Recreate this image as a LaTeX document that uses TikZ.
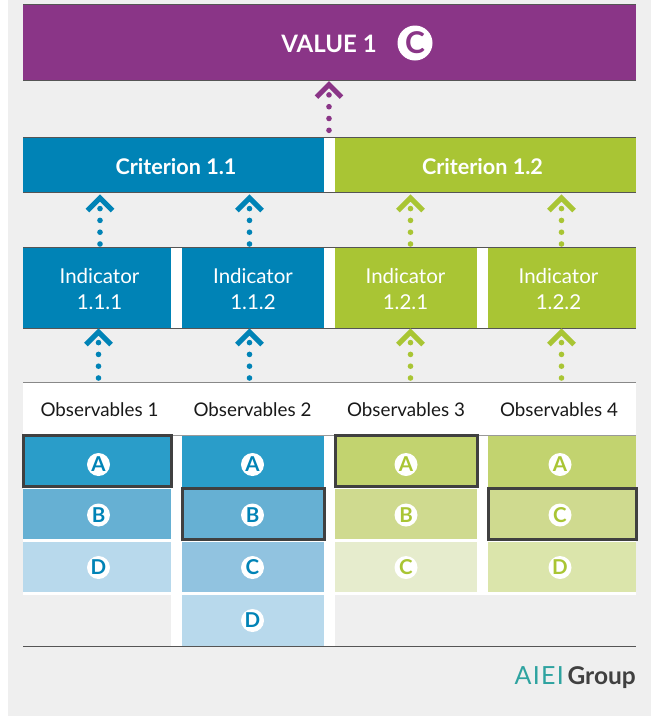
\documentclass[tikz,border=0pt]{standalone}
\usepackage{fontspec}
\setmainfont{Lato}
\usetikzlibrary{calc}
\definecolor{pagebg}{HTML}{EFEFEF}
\definecolor{vpurple}{HTML}{8A3587}
\definecolor{cblue}{HTML}{0083B6}
\definecolor{cgreen}{HTML}{A9C534}
\definecolor{bluea}{HTML}{2A9DC9}
\definecolor{blueb}{HTML}{66B0D3}
\definecolor{bluec}{HTML}{91C3E0}
\definecolor{blued}{HTML}{B8D9EC}
\definecolor{greena}{HTML}{C2D36F}
\definecolor{greenb}{HTML}{CFDA8F}
\definecolor{greenc}{HTML}{E6ECCD}
\definecolor{greend}{HTML}{DBE5AB}
\definecolor{rulec}{HTML}{555555}
\definecolor{selc}{HTML}{404040}
\definecolor{teal}{HTML}{2EA3A0}
\tikzset{
  x=1pt,y=-1pt,
  block/.style={anchor=north west,inner sep=0pt,outer sep=0pt,draw=none},
  cell/.style args={#1/#2/#3}{block,fill=#1,minimum width=#2pt,minimum height=#3pt},
  badge/.style={circle,fill=white,inner sep=0pt,minimum size=23pt,font=\fontsize{20.5}{20.5}\selectfont\bfseries,text=#1},
  rulea/.style={draw=rulec,line width=1pt},
  selbox/.style={draw=selc,line width=3pt,fill=none},
  dotsline/.style={draw=#1,line width=5.6pt,line cap=round,dash pattern=on 0pt off 11.8pt},
  chev/.style={draw=#1,line width=5pt,line join=miter},
  bt/.style={text=white,font=\fontsize{21.6}{25}\selectfont\bfseries},
  it/.style={text=white,font=\fontsize{20.5}{25.5}\selectfont,align=center},
  ot/.style={text=black!90,font=\fontsize{18.8}{20}\selectfont},
}
\newcommand{\conn}[3]{%
  \draw[dotsline=#1] ($(#2)+(0,-2)$) -- ($(#3)+(0,13.5)$);
  \draw[chev=#1] ($(#3)+(-12.5,18)$) -- ($(#3)+(0,5.5)$) -- ($(#3)+(12.5,18)$);
}
\begin{document}
\begin{tikzpicture}
\useasboundingbox (0,0) rectangle (651,716);
\fill[pagebg] (8,0) rectangle (651,716);

% value
\node[cell=vpurple/613/75.5] (value) at (23,5) {};
\node[text=white,font=\fontsize{24}{25}\selectfont\bfseries] (valuet) at (329,43.5) {VALUE 1};
\node[circle,fill=white,inner sep=0pt,minimum size=35pt,text=vpurple,font=\fontsize{30}{30}\selectfont\bfseries] (valuec) at (415,43) {C};

% criteria
\node[cell=cblue/301/55] (c11) at (23,137.5) {};
\node[cell=white/11/55] (cgap) at (324,137.5) {};
\node[cell=cgreen/301/55] (c12) at (335,137.5) {};
\node[bt] (c11t) at (176,167) {Criterion 1.1};
\node[bt] (c12t) at (482.5,167) {Criterion 1.2};

% indicators
\node[cell=cblue/148/80.5] (i111) at (23,247.5) {};
\node[cell=white/11/80.5] (igap1) at (171,247.5) {};
\node[cell=cblue/142/80.5] (i112) at (182,247.5) {};
\node[cell=white/11/80.5] (igap2) at (324,247.5) {};
\node[cell=cgreen/142/80.5] (i121) at (335,247.5) {};
\node[cell=white/11/80.5] (igap3) at (477,247.5) {};
\node[cell=cgreen/148/80.5] (i122) at (488,247.5) {};
\node[it] (i111t) at (99.5,289) {Indicator\\1.1.1};
\node[it] (i112t) at (253,289) {Indicator\\1.1.2};
\node[it] (i121t) at (405.5,289) {Indicator\\1.2.1};
\node[it] (i122t) at (558.5,289) {Indicator\\1.2.2};

% observables table ground
\node[cell=white/613/264] (table) at (23,382) {};
\node[ot] (o1) at (99.5,409.5) {Observables 1};
\node[ot] (o2) at (252.5,409.5) {Observables 2};
\node[ot] (o3) at (406,409.5) {Observables 3};
\node[ot] (o4) at (559,409.5) {Observables 4};

% cells
\node[cell=bluea/148/51] (a1) at (23,435.7) {};
\node[cell=blueb/148/50] (b1) at (23,489.3) {};
\node[cell=blued/148/50] (d1) at (23,542) {};
\node[cell=pagebg/148/51] (e1) at (23,595) {};
\node[cell=bluea/142/51] (a2) at (182,435.7) {};
\node[cell=blueb/142/50] (b2) at (182,489.3) {};
\node[cell=bluec/142/50] (c2) at (182,542) {};
\node[cell=blued/142/51] (d2) at (182,595) {};
\node[cell=greena/142/51] (a3) at (335,435.7) {};
\node[cell=greenb/142/50] (b3) at (335,489.3) {};
\node[cell=greenc/142/50] (c3) at (335,542) {};
\node[cell=pagebg/301/51] (e3) at (335,595) {};
\node[cell=greena/148/51] (a4) at (488,435.7) {};
\node[cell=greenb/148/50] (b4) at (488,489.3) {};
\node[cell=greend/148/50] (c4) at (488,542) {};

% badges
\node[badge=cblue] (ba1) at (98.5,464.5) {A};
\node[badge=cblue] (bb1) at (98.5,515) {B};
\node[badge=cblue] (bd1) at (98.5,567.5) {D};
\node[badge=cblue] (ba2) at (252.5,464.5) {A};
\node[badge=cblue] (bb2) at (252.5,515) {B};
\node[badge=cblue] (bc2) at (252.5,567.5) {C};
\node[badge=cblue] (bd2) at (252.5,620.5) {D};
\node[badge=cgreen] (ba3) at (406,464.5) {A};
\node[badge=cgreen] (bb3) at (406,515) {B};
\node[badge=cgreen] (bc3) at (406,567.5) {C};
\node[badge=cgreen] (ba4) at (560,464.5) {A};
\node[badge=cgreen] (bc4) at (560,515) {C};
\node[badge=cgreen] (bd4) at (560,567.5) {D};

% rules
\draw[rulea] (23,4.5) -- (636,4.5);
\draw[rulea] (23,80.5) -- (636,80.5);
\draw[rulea] (23,137.5) -- (636,137.5);
\draw[rulea] (23,192.5) -- (636,192.5);
\draw[rulea] (23,247.5) -- (636,247.5);
\draw[rulea] (23,328.5) -- (636,328.5);
\draw[rulea,draw=rulec!70] (23,382) -- (636,382);
\draw[rulea,draw=rulec!60] (23,435) -- (636,435);
\draw[rulea] (23,646.3) -- (636,646.3);

% selected cells
\draw[selbox] (a1.north west) rectangle ($(a1.south east)+(0.5,0)$);
\draw[selbox] ($(b2.north west)+(0,-0.5)$) rectangle (b2.south east);
\draw[selbox] (a3.north west) rectangle (a3.south east);
\draw[selbox] ($(b4.north west)+(0,-0.5)$) rectangle (b4.south east);

% connectors
\coordinate (tv) at (329,79.2);
\coordinate (fv) at (329,132.3);
\conn{vpurple}{fv}{tv}
\coordinate (f1) at (100,246);
\coordinate (t1) at (100,192.5);
\conn{cblue}{f1}{t1}
\coordinate (f2) at (249.5,246);
\coordinate (t2) at (249.5,192.5);
\conn{cblue}{f2}{t2}
\coordinate (f3) at (410.5,246);
\coordinate (t3) at (410.5,192.5);
\conn{cgreen}{f3}{t3}
\coordinate (f4) at (561.5,246);
\coordinate (t4) at (561.5,192.5);
\conn{cgreen}{f4}{t4}
\coordinate (g1) at (98.5,380);
\coordinate (h1) at (98.5,326.5);
\conn{cblue}{g1}{h1}
\coordinate (g2) at (249.5,380);
\coordinate (h2) at (249.5,326.5);
\conn{cblue}{g2}{h2}
\coordinate (g3) at (410.5,380);
\coordinate (h3) at (410.5,326.5);
\conn{cgreen}{g3}{h3}
\coordinate (g4) at (561.5,380);
\coordinate (h4) at (561.5,326.5);
\conn{cgreen}{g4}{h4}

% logo
\node[anchor=east,inner sep=0pt,text=selc,font=\fontsize{24.5}{24}\selectfont\bfseries] (grp) at (636,678) {Group};
\node[anchor=east,inner sep=0pt,text=teal,font=\fontsize{25}{24}\addfontfeatures{LetterSpace=5}] (aiei) at (564,676) {AIEI};
\end{tikzpicture}
\end{document}
